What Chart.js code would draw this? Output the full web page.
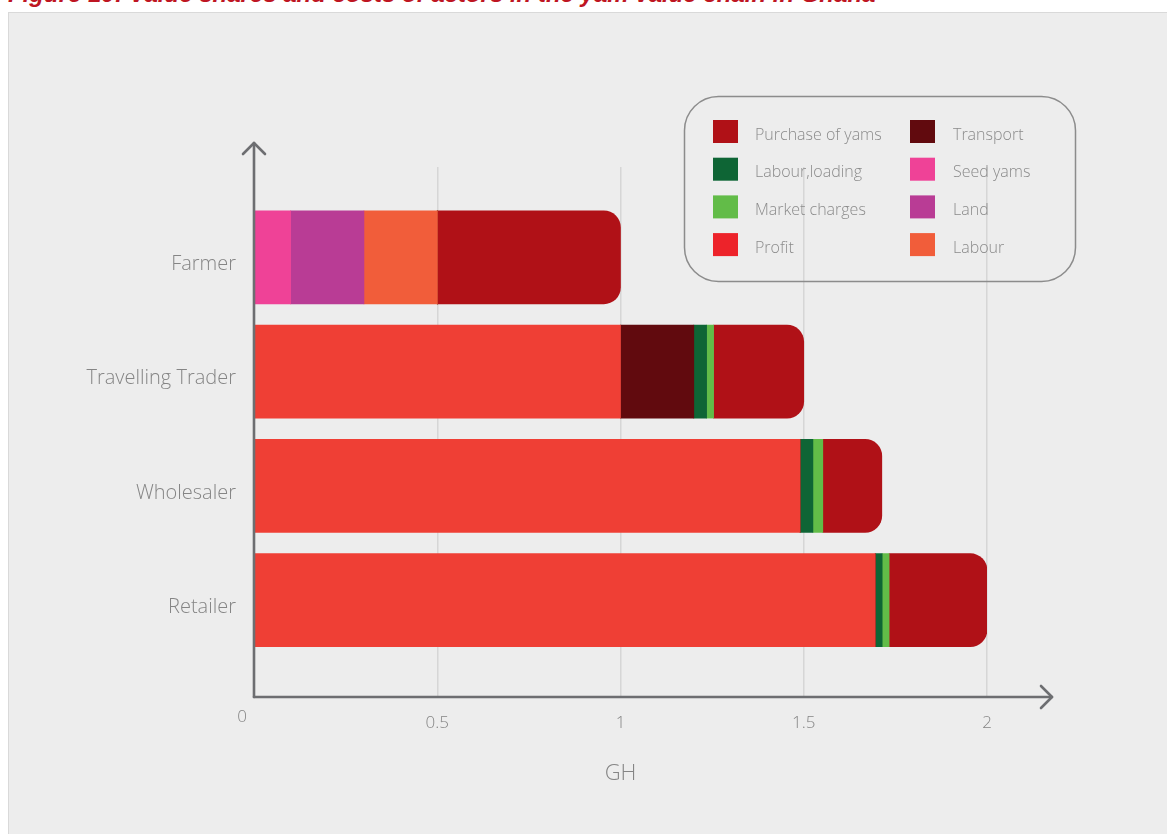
<!DOCTYPE html>
<html><head><meta charset="utf-8">
<script src="https://cdn.jsdelivr.net/npm/chart.js@4.4.0/dist/chart.umd.min.js"></script>
<style>
html,body{margin:0;padding:0;width:1167px;height:834px;overflow:hidden;background:#fff;}
#panel{position:absolute;left:8px;top:12px;width:1170px;height:830px;background:#EDEDED;border-left:1px solid #D9D9D9;border-top:1px solid #D9D9D9;}
#title{position:absolute;left:8px;top:-20px;font:italic bold 24px 'Liberation Sans',sans-serif;line-height:28px;color:#BE1522;white-space:nowrap;}
#wrap{position:absolute;left:0;top:0;width:1167px;height:834px;}
</style></head>
<body>
<div id="panel"></div>
<div id="title">Figure 10: Value shares and costs of actors in the yam value chain in Ghana</div>
<div id="wrap"><canvas id="c" width="1167" height="834"></canvas></div>
<script>
// ---- data ----
const categories = ['Farmer', 'Travelling Trader', 'Wholesaler', 'Retailer'];
const seedYams       = [0.10, 0,     0,     0];
const land           = [0.20, 0,     0,     0];
const labour         = [0.20, 0,     0,     0];
const profit         = [0,    1.00,  1.49,  1.695];
const transport      = [0,    0.20,  0,     0];
const labourLoading  = [0,    0.035, 0.035, 0.019];
const marketCharges  = [0,    0.019, 0.027, 0.019];
const purchaseOfYams = [0.50, 0.246, 0.161, 0.267];
const xTicks = [0, 0.5, 1, 1.5, 2];
const xAxisTitle = 'GH';
const legendOrder = ['Purchase of yams', 'Transport', 'Labour,loading', 'Seed yams', 'Market charges', 'Land', 'Profit', 'Labour'];

// ---- styles ----
const seriesStyle = {
  'Seed yams':        {bar: '#EF4297', legend: '#EF4297'},
  'Land':             {bar: '#B93C95', legend: '#B93C95'},
  'Labour':           {bar: '#F15D3A', legend: '#F15D3A'},
  'Profit':           {bar: '#EF3F35', legend: '#ED232A'},
  'Transport':        {bar: '#610A0E', legend: '#610A0E'},
  'Labour,loading':   {bar: '#0E6535', legend: '#0E6535'},
  'Market charges':   {bar: '#62BC48', legend: '#62BC48'},
  'Purchase of yams': {bar: '#B01117', legend: '#B01117'}
};
const FONT = '"Open Sans", "Liberation Sans", sans-serif';
const TEXT = '#858585';
const AXIS = '#6D6E71';
const Y_MIN = -0.79, Y_MAX = 3.847;

const series = [
  ['Seed yams', seedYams], ['Land', land], ['Labour', labour], ['Profit', profit],
  ['Transport', transport], ['Labour,loading', labourLoading], ['Market charges', marketCharges],
  ['Purchase of yams', purchaseOfYams]
];
const datasets = series.map(([label, vals], k) => ({
  label,
  data: vals.map((v, i) => ({x: v, y: i})),
  backgroundColor: seriesStyle[label].bar,
  borderWidth: 0,
  barThickness: 93,
  borderRadius: k === series.length - 1 ? 17 : 0,
  borderSkipped: 'start'
}));

const decor = {
  id: 'decor',
  afterDatasetsDraw(chart) {
    const ctx = chart.ctx;
    const xs = chart.scales.x, a = chart.chartArea;
    const x0 = xs.getPixelForValue(0);
    ctx.save();
    ctx.strokeStyle = AXIS; ctx.lineWidth = 2.6; ctx.lineCap = 'round'; ctx.lineJoin = 'round';
    ctx.beginPath(); ctx.moveTo(x0, a.bottom); ctx.lineTo(x0, 143); ctx.stroke();
    ctx.beginPath(); ctx.moveTo(x0 - 11, 154); ctx.lineTo(x0, 143); ctx.lineTo(x0 + 11, 154); ctx.stroke();
    ctx.beginPath(); ctx.moveTo(x0, a.bottom); ctx.lineTo(1052, a.bottom); ctx.stroke();
    ctx.beginPath(); ctx.moveTo(1041, a.bottom - 11); ctx.lineTo(1052, a.bottom); ctx.lineTo(1041, a.bottom + 11); ctx.stroke();
    ctx.fillStyle = TEXT; ctx.font = '300 17px ' + FONT; ctx.textAlign = 'center'; ctx.textBaseline = 'middle';
    ctx.fillText(String(xTicks[0]), x0 - 12, 717);
    ctx.font = '300 22px ' + FONT;
    ctx.fillText(xAxisTitle, (a.left + a.right) / 2, 774);
    const bx = 684.5, by = 96.5, bw = 391, bh = 185;
    ctx.strokeStyle = '#8C8C8C'; ctx.lineWidth = 1.5;
    ctx.beginPath(); ctx.roundRect(bx, by, bw, bh, 34); ctx.stroke();
    ctx.font = '300 16px ' + FONT; ctx.textAlign = 'left';
    legendOrder.forEach((name, i) => {
      const col = i % 2, row = Math.floor(i / 2);
      const sx = 713 + col * 197, sy = 120 + row * 37.7;
      ctx.fillStyle = seriesStyle[name].legend;
      ctx.fillRect(sx, sy, 25, 23);
      ctx.fillStyle = '#8B8B8B';
      ctx.fillText(name, 755 + col * 198, sy + 15);
    });
    ctx.restore();
  }
};

new Chart(document.getElementById('c'), {
  type: 'bar',
  data: {datasets},
  options: {
    indexAxis: 'y',
    responsive: false,
    animation: false,
    layout: {padding: {left: 0, top: 167, right: 180, bottom: 0}},
    plugins: {legend: {display: false}, tooltip: {enabled: false}},
    scales: {
      x: {
        type: 'linear', stacked: true, min: xTicks[0], max: xTicks[xTicks.length - 1],
        grid: {color: '#D6D6D6', lineWidth: 1.5, drawTicks: false},
        border: {display: false},
        ticks: {stepSize: 0.5, padding: 16, color: TEXT, font: {family: FONT, size: 17, weight: 300},
                callback: v => (v === 0 ? '' : String(v))},
        afterFit: s => { s.height = 137; }
      },
      y: {
        type: 'linear', stacked: true, reverse: true, min: Y_MIN, max: Y_MAX,
        offset: false,
        grid: {display: false, drawTicks: false, offset: false},
        border: {display: false},
        ticks: {stepSize: 1, includeBounds: false, autoSkip: false, padding: 18, labelOffset: 7,
                color: TEXT, font: {family: FONT, size: 20, weight: 300},
                callback: v => (Number.isInteger(v) && categories[v] !== undefined ? categories[v] : '')},
        afterDataLimits: s => { s.min = Y_MIN; s.max = Y_MAX; },
        afterFit: s => { s.width = 254; }
      }
    }
  },
  plugins: [decor]
});
</script>
</body></html>
